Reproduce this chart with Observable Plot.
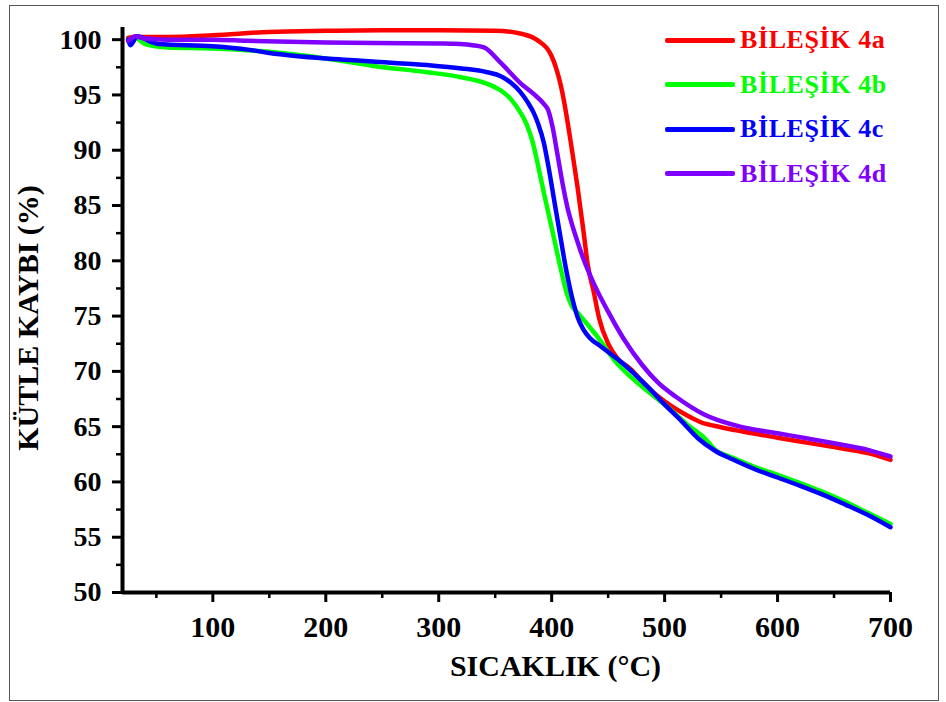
<!DOCTYPE html>
<html>
<head>
<meta charset="utf-8">
<script src="https://cdn.jsdelivr.net/npm/d3@7"></script>
<script src="https://cdn.jsdelivr.net/npm/@observablehq/plot@0.6"></script>
<style>
  body { margin: 0; background: #fff; }
  #wrap { position: relative; width: 946px; height: 702px; overflow: hidden;
          font-family: "Liberation Serif", "Times New Roman", serif; font-weight: bold; }
  #border { position: absolute; left: 9px; top: 5px; width: 930px; height: 696px;
            border: 1.5px solid #555; box-sizing: border-box; pointer-events: none; }
  #chart { position: absolute; left: 0; top: 0; }
  .leg { position: absolute; left: 665px; height: 0; }
  .sw { position: absolute; left: 0; top: -2.5px; width: 70px; height: 5px; border-radius: 2px; }
  .lt { position: absolute; left: 75px; top: -15px; font-size: 26px; line-height: 30px;
        white-space: nowrap; letter-spacing: 0.6px; }
</style>
</head>
<body>
<div id="wrap">
  <div id="chart"></div>
  <div id="legend"></div>
  <div id="border"></div>
</div>
<script>
// ---- data ----
const seriesNames = ["BİLEŞİK 4a", "BİLEŞİK 4b", "BİLEŞİK 4c", "BİLEŞİK 4d"];
const seriesColors = ["#ff0000", "#00ff00", "#0000ff", "#8000ff"];

const tempA = [25, 30, 60, 100, 150, 200, 250, 300, 350, 370, 385, 392, 396, 400, 404, 408, 411, 414, 418, 423, 428, 432, 437, 442, 450, 458, 470, 480, 490, 500, 510, 520, 532, 550, 567, 600, 620, 650, 680, 700];
const massA = [100.15, 100.25, 100.25, 100.4, 100.7, 100.8, 100.85, 100.85, 100.8, 100.6, 100.1, 99.6, 99.2, 98.5, 97.4, 95.9, 94.4, 92.6, 90.0, 86.6, 82.8, 79.6, 77.3, 74.8, 72.5, 71.2, 70.2, 69.1, 68.1, 67.3, 66.6, 66.0, 65.4, 64.95, 64.6, 64.0, 63.65, 63.15, 62.6, 62.0];

const tempB = [25, 27, 31, 40, 60, 100, 150, 200, 244, 290, 320, 343, 355, 364, 373, 378, 383, 388, 393, 398, 403, 408, 413, 418, 423, 440, 458, 470, 485, 500, 520, 535, 545, 560, 580, 600, 620, 640, 660, 680, 700];
const massB = [100.0, 99.6, 100.2, 99.6, 99.3, 99.2, 98.9, 98.3, 97.6, 97.05, 96.6, 96.0, 95.4, 94.6, 93.3, 92.3, 90.8, 88.6, 86.2, 83.9, 81.6, 79.3, 77.2, 75.9, 75.3, 73.2, 70.7, 69.5, 68.2, 67.0, 65.2, 64.0, 62.9, 62.2, 61.35, 60.65, 59.9, 59.1, 58.2, 57.2, 56.2];

const tempC = [25, 27, 33, 45, 52, 100, 131, 150, 200, 231, 244, 290, 320, 343, 355, 364, 372, 379, 384, 388, 393, 397, 402, 408, 413, 418, 423, 428, 434, 443, 452, 462, 473, 486, 499, 515, 529, 545, 560, 580, 600, 620, 640, 660, 680, 700];
const massC = [100.0, 99.5, 100.3, 99.8, 99.6, 99.4, 99.1, 98.8, 98.3, 98.1, 98.0, 97.7, 97.4, 97.05, 96.7, 96.1, 95.3, 94.3, 93.4, 92.4, 90.7, 88.6, 85.6, 82.0, 79.1, 76.7, 74.9, 73.8, 73.0, 72.3, 71.6, 70.8, 69.8, 68.5, 67.1, 65.5, 64.0, 62.8, 62.05, 61.15, 60.4, 59.65, 58.85, 57.95, 57.0, 55.9];

const tempD = [25, 28, 31, 40, 60, 100, 130, 200, 244, 300, 319, 330, 340, 355, 372, 385, 393, 397, 401, 405, 410, 414, 418, 422, 428, 437, 450, 464, 480, 494, 510, 535, 567, 600, 620, 650, 680, 700];
const massD = [99.9, 100.1, 100.3, 100.1, 100.0, 100.0, 99.9, 99.75, 99.7, 99.65, 99.6, 99.5, 99.3, 97.9, 96.1, 95.0, 94.2, 93.6, 92.0, 89.7, 86.8, 84.8, 83.3, 82.0, 80.2, 78.0, 75.4, 72.9, 70.6, 69.0, 67.7, 66.1, 65.0, 64.4, 64.05, 63.5, 62.9, 62.3];

const xMajorTicks = [100, 200, 300, 400, 500, 600, 700];
const xMinorTicks = [50, 150, 250, 350, 450, 550, 650];
const yMajorTicks = [50, 55, 60, 65, 70, 75, 80, 85, 90, 95, 100];
const yMinorTicks = [52.5, 57.5, 62.5, 67.5, 72.5, 77.5, 82.5, 87.5, 92.5, 97.5];
const xLabel = "SICAKLIK (°C)";
const yLabel = "KÜTLE KAYBI (%)";

// ---- build table ----
const temps = [tempA, tempB, tempC, tempD];
const masses = [massA, massB, massC, massD];
const rows = seriesNames.flatMap((name, k) => temps[k].map((t, i) => ({series: name, T: t, W: masses[k][i]})));

const chart = Plot.plot({
  width: 946, height: 702,
  marginLeft: 122, marginRight: 56, marginTop: 27, marginBottom: 110,
  x: {domain: [20, 700]},
  y: {domain: [50, 101.1]},
  color: {domain: seriesNames, range: seriesColors},
  style: {fontFamily: "Liberation Serif, Times New Roman, serif", fontWeight: "bold", background: "transparent", color: "#000"},
  marks: [
    Plot.axisX({ticks: xMajorTicks, tickSize: 10, tickPadding: 13, fontSize: 30, strokeWidth: 3, label: null, tickFormat: d => d}),
    Plot.axisX({ticks: xMinorTicks, tickSize: 6, tickPadding: 0, strokeWidth: 2.5, label: null, tickFormat: () => ""}),
    Plot.axisY({ticks: yMajorTicks, tickSize: 10, tickPadding: 11, fontSize: 28, strokeWidth: 3, label: null, tickFormat: d => d}),
    Plot.axisY({ticks: yMinorTicks, tickSize: 6, tickPadding: 0, strokeWidth: 2.5, label: null, tickFormat: () => ""}),
    Plot.ruleX([20], {y1: 50, y2: 101.1, strokeWidth: 4}),
    Plot.ruleY([50], {x1: 20, x2: 700, strokeWidth: 4}),
    Plot.line(rows, {x: "T", y: "W", z: "series", stroke: "series", strokeWidth: 4.5, curve: "monotone-x"}),
    Plot.text([xLabel], {text: d => d, frameAnchor: "bottom", textAnchor: "middle", dx: 49, dy: 83, fontSize: 30}),
    Plot.text([yLabel], {text: d => d, frameAnchor: "left", textAnchor: "middle", rotate: -90, dx: -94, dy: 8, fontSize: 30})
  ]
});
document.getElementById("chart").appendChild(chart);

// ---- legend ----
const legend = document.getElementById("legend");
const legendTops = [40, 84.5, 129, 173.5];
seriesNames.forEach((name, i) => {
  const row = document.createElement("div");
  row.className = "leg";
  row.style.top = legendTops[i] + "px";
  const sw = document.createElement("div");
  sw.className = "sw";
  sw.style.background = seriesColors[i];
  const lt = document.createElement("div");
  lt.className = "lt";
  lt.style.color = seriesColors[i];
  lt.textContent = name;
  row.appendChild(sw);
  row.appendChild(lt);
  legend.appendChild(row);
});
</script>
</body>
</html>
